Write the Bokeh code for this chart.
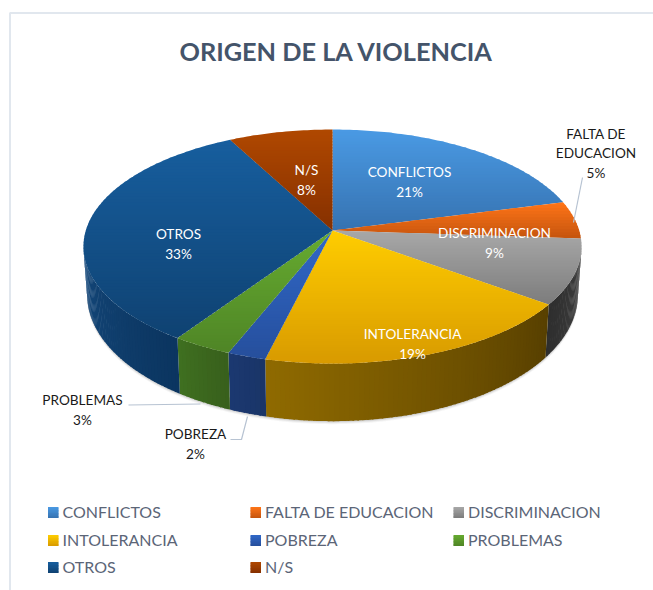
import numpy as np
from bokeh.plotting import figure
from bokeh.models import Range1d, ColumnDataSource
from bokeh.core.properties import value
from bokeh.embed import file_html
from bokeh.resources import INLINE

title = "ORIGEN DE LA VIOLENCIA"
categories = ["CONFLICTOS", "FALTA DE EDUCACION", "DISCRIMINACION", "INTOLERANCIA",
              "POBREZA", "PROBLEMAS", "OTROS", "N/S"]
shares = [20.9, 5.2, 9.0, 18.7, 2.2, 3.4, 32.9, 7.7]
top_light = ["#4a9ae4", "#ff7518", "#a8a8a8", "#ffcd00", "#3068c8", "#66ab30", "#175e9e", "#b04800"]
top_dark = ["#3672b0", "#c4540e", "#7c7c7c", "#d89a00", "#264f9c", "#4f8526", "#0f4272", "#853000"]
wall_left = ["#333333", "#333333", "#2e2e2e", "#8f6a00", "#1b3870", "#3f6f20", "#15497c", "#853000"]
wall_right = ["#333333", "#333333", "#444444", "#584000", "#1a3568", "#38601c", "#0b3560", "#853000"]

# projection of the pie (page pixels)
CX, CY = 332, 230
A, B, K = 114.8, 246.7, 0.137
WX, WY, WD = 0.985, 1.08, 47


def top_xy(t):
    u, v = np.sin(t), np.cos(t)
    d = 1 + K * v
    return CX + B * u / d, CY - A * v / d


def bot_xy(t):
    u, v = np.sin(t), np.cos(t)
    d = 1 + K * v
    return CX + WX * B * u / d, CY - WY * A * v / d + WD


def hex2rgb(h):
    return np.array([int(h[i:i + 2], 16) for i in (1, 3, 5)], float)


def mix(a, b, f):
    c = hex2rgb(a) * (1 - f) + hex2rgb(b) * f
    return "#%02x%02x%02x" % tuple(int(round(x)) for x in c)


def clip(px, py, y0, y1):
    pts = list(zip(px, py))
    for lim, keep in ((y0, lambda y: y >= y0), (y1, lambda y: y <= y1)):
        out = []
        for i in range(len(pts)):
            a, b = pts[i], pts[(i + 1) % len(pts)]
            ia, ib = keep(a[1]), keep(b[1])
            if ia:
                out.append(a)
            if ia != ib:
                f = (lim - a[1]) / (b[1] - a[1])
                out.append((a[0] + f * (b[0] - a[0]), lim))
        pts = out
        if not pts:
            return [], []
    return [p[0] for p in pts], [p[1] for p in pts]


def bands(px, py, c0, c1, store, step=3.0):
    lo, hi = min(py), max(py)
    y = lo
    while y < hi:
        x2, y2 = clip(px, py, y, min(y + step + 0.7, hi))
        if x2:
            store["xs"].append(x2)
            store["ys"].append(y2)
            store["c"].append(mix(c0, c1, (y + step / 2 - lo) / max(hi - lo, 1)))
        y += step


edges = 2 * np.pi * np.cumsum([0] + shares) / sum(shares)
T_R = np.arccos(-K)
T_L = 2 * np.pi - T_R

p = figure(width=653, height=590, x_range=Range1d(0, 653), y_range=Range1d(590, 0),
           toolbar_location=None, output_backend="svg", min_border=0,
           outline_line_color=None, background_fill_color="white")
p.axis.visible = False
p.grid.visible = False

# chart frame
p.line([9.5, 9.5, 653], [590, 12.5, 12.5], line_color="#e1e7ee", line_width=2)

# soft shadow beneath the wall
tt = np.linspace(T_R, T_L, 160)
bx, by = bot_xy(tt)
for off, al in ((3.0, 0.05), (2.0, 0.08), (1.0, 0.12)):
    p.patch(list(bx) + list(bx[::-1]), list(by + off) + list(by[::-1] - 12),
            fill_color="#404040", fill_alpha=al, line_color=None)

# walls
wall = dict(xs=[], ys=[], c=[])
for i in range(len(shares)):
    a, b = max(edges[i], T_R), min(edges[i + 1], T_L)
    if b <= a:
        continue
    n = max(int(np.degrees(b - a)), 2)
    ts = np.linspace(a, b, n + 1)
    # left-to-right shading on screen: theta grows towards the left
    for j in range(n):
        t0 = ts[j]
        t1 = min(ts[j + 1] + 0.006, b)
        arc = np.linspace(t0, t1, 3)
        x1, y1 = top_xy(arc)
        x2, y2 = bot_xy(arc[::-1])
        wall["xs"].append(list(x1) + list(x2))
        wall["ys"].append(list(y1) + list(y2))
        wall["c"].append(mix(wall_right[i], wall_left[i], j / max(n - 1, 1)))
p.patches("xs", "ys", source=ColumnDataSource(wall), fill_color="c", line_color=None)

# top surface
surf = dict(xs=[], ys=[], c=[])
for i in range(len(shares)):
    ts = np.linspace(edges[i], edges[i + 1], max(int(shares[i] * 4), 6))
    x, y = top_xy(ts)
    px = [CX] + list(x)
    py = [CY] + list(y)
    bands(px, py, top_light[i], top_dark[i], surf)
p.patches("xs", "ys", source=ColumnDataSource(surf), fill_color="c", line_color=None)

# leader lines
for lx, ly in (([128, 200], [404.5, 403.5]), ([230, 241, 247], [439, 439, 416]), ([582, 573], [177, 222])):
    p.line(lx, ly, line_color="#b7c3d2", line_width=1.2)

# data labels: [category index, x, y, colour]
label_pos = [(0, 409, 171, "white"), (1, 595.5, 152, "#1a1a1a"), (2, 494, 232, "white"),
             (3, 412, 333, "white"), (4, 195, 433, "#1a1a1a"), (5, 82, 399, "#1a1a1a"),
             (6, 178, 233, "white"), (7, 306, 169, "white")]
LF = "13.6px"
for i, lx, ly, col in label_pos:
    name = categories[i]
    lines = [name]
    if name == "FALTA DE EDUCACION":
        lines = ["EDUCACION"]
        p.text([lx], [ly - 19], text=["FALTA DE"], text_font=value("Lato"), text_font_size=LF,
               text_color=col, text_align="center", text_baseline="middle")
    p.text([lx], [ly], text=lines, text_font=value("Lato"), text_font_size=LF,
           text_color=col, text_align="center", text_baseline="middle")
    p.text([lx], [ly + 20], text=["%d%%" % round(shares[i])], text_font=value("Lato"), text_font_size=LF,
           text_color=col, text_align="center", text_baseline="middle")

# title
p.text([336], [50], text=[title], text_font=value("Lato"), text_font_size="25.3px", text_font_style="bold",
       text_color="#44546a", text_align="center", text_baseline="middle")

# legend
cols, rows = [47.5, 250, 453], [512, 540, 567]
leg = dict(xs=[], ys=[], c=[])
for i, name in enumerate(categories):
    lx, ly = cols[i % 3], rows[i // 3]
    bands([lx, lx + 10.5, lx + 10.5, lx], [ly - 5.5, ly - 5.5, ly + 5.5, ly + 5.5],
          top_light[i], top_dark[i], leg, step=1.5)
    p.text([lx + 14.5], [ly - 1], text=[name], text_font=value("Lato"), text_font_size="16px",
           text_color="#5b6577", text_align="left", text_baseline="middle")
p.patches("xs", "ys", source=ColumnDataSource(leg), fill_color="c", line_color=None)

open("out.html", "w").write(file_html(p, INLINE))
